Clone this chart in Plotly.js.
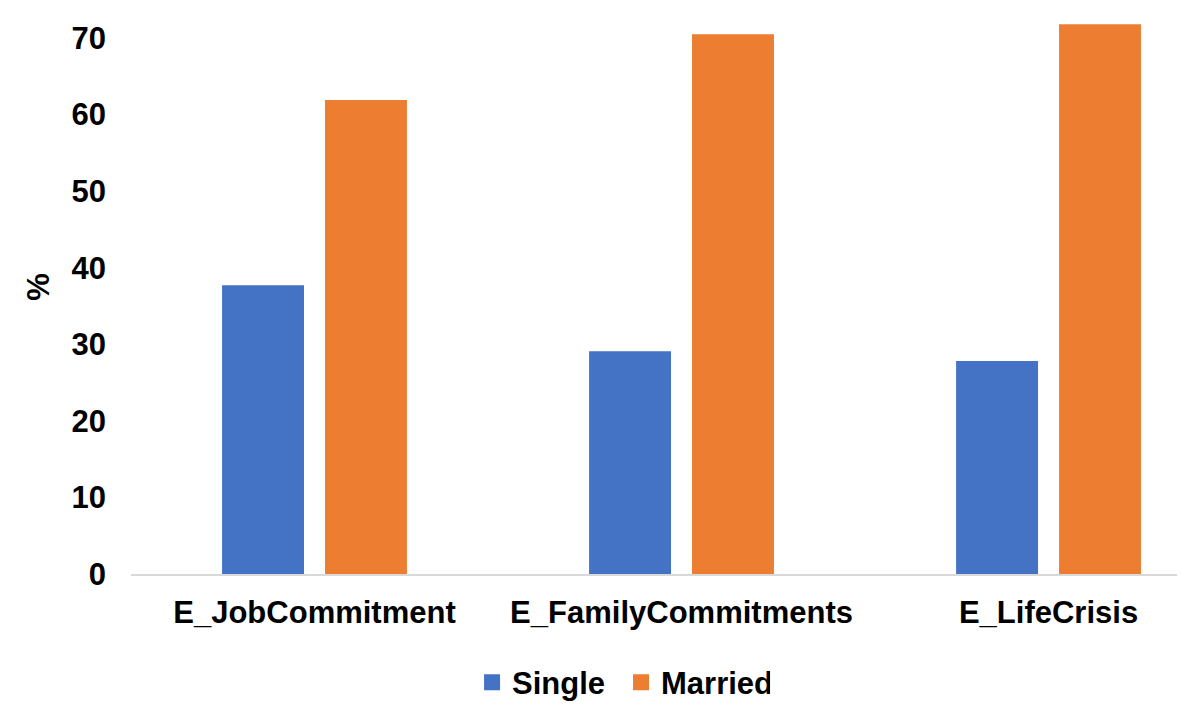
<!DOCTYPE html>
<html>
<head>
<meta charset="utf-8">
<script src="https://cdn.plot.ly/plotly-3.0.1.min.js"></script>
<style>
  html, body { margin: 0; padding: 0; background: #fff; }
  #chart { width: 1200px; height: 728px; }
</style>
</head>
<body>
<div id="chart"></div>
<script>
  // values (percent)
  var categories = ["E_JobCommitment", "E_FamilyCommitments", "E_LifeCrisis"];
  var seriesNames = ["Single", "Married"];
  var singleVals = [37.7, 29.1, 27.8];
  var marriedVals = [61.9, 70.5, 71.8];
  var yTicks = [0, 10, 20, 30, 40, 50, 60, 70];

  var COLORS = ["#4472C4", "#ED7D31"];
  var FONT = "Arial, 'Liberation Sans', sans-serif";
  var INK = "#000000";

  function bold(size) { return { family: FONT, size: size, color: INK, weight: "bold" }; }

  var traces = [
    { type: "bar", name: seriesNames[0], x: categories, y: singleVals, legendgroup: "s",
      marker: { color: COLORS[0] }, showlegend: false },
    { type: "bar", name: seriesNames[1], x: categories, y: marriedVals, legendgroup: "m",
      marker: { color: COLORS[1] }, showlegend: false }
  ];
  // legend entries with larger square swatches, like the original
  seriesNames.forEach(function (n, i) {
    traces.push({
      type: "scatter", mode: "markers", name: n, legendgroup: i ? "m" : "s",
      x: [categories[0]], y: [null], hoverinfo: "skip",
      marker: { symbol: "square", size: 16, color: COLORS[i], line: { width: 0 } }
    });
  });

  var layout = {
    width: 1200, height: 728,
    margin: { l: 131, r: 23, t: 0, b: 153.5 },
    paper_bgcolor: "#ffffff", plot_bgcolor: "#ffffff",
    font: bold(31),
    barmode: "group", bargap: 0.439, bargroupgap: 0.204,
    xaxis: {
      type: "category", range: [-0.5, 2.35], fixedrange: true,
      showgrid: false, zeroline: false, showline: true, linecolor: "#D9D9D9", linewidth: 2,
      ticks: "", ticklabelstandoff: 10,
      tickfont: bold(31)
    },
    yaxis: {
      range: [0, 74.96], fixedrange: true,
      tickvals: yTicks, ticktext: yTicks.map(String),
      showgrid: false, zeroline: false, showline: false, ticks: "",
      ticklabelstandoff: 24,
      tickfont: bold(31),
      title: { text: "%", standoff: 12, font: bold(31) }
    },
    showlegend: true,
    legend: {
      orientation: "h", x: 0.4685, xanchor: "center", y: -0.189, yanchor: "middle",
      font: bold(31), itemwidth: 30, tracegroupgap: 0, entrywidth: 104
    }
  };

  Plotly.newPlot("chart", traces, layout, { displayModeBar: false, staticPlot: true });
</script>
</body>
</html>
